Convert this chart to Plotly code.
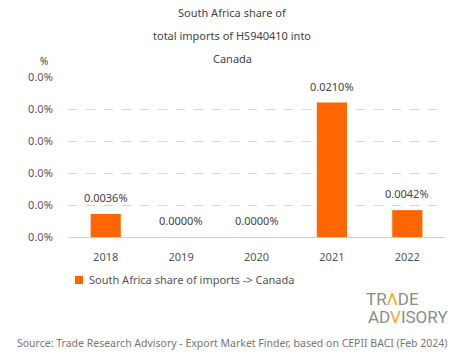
import plotly.graph_objects as go

years = ["2018", "2019", "2020", "2021", "2022"]
share_pct = [0.0036, 0.0, 0.0, 0.0210, 0.0042]
bar_labels = ["0.0036%", "0.0000%", "0.0000%", "0.0210%", "0.0042%"]
series_name = "South Africa share of imports -> Canada"
title_lines = ["South Africa share of", "total imports of HS940410 into", "Canada"]
source_text = "Source: Trade Research Advisory - Export Market Finder, based on CEPII BACI (Feb 2024)"

FONT = "Noto Sans"
ORANGE = "#ff6600"
GRAY = "#555555"

W, H = 465, 359
ml, mr, mt, mb = 68, 20, 77, 122
plot_w = W - ml - mr
plot_h = H - mt - mb

def px(xpix):
    return (xpix - ml) / plot_w

def py(ypix):
    return (H - mb - ypix) / plot_h

fig = go.Figure()
fig.add_trace(go.Bar(
    x=years, y=share_pct, name=series_name,
    marker=dict(color=ORANGE, line=dict(width=0)),
    width=0.4, showlegend=False,
))

# value labels above bars, anchored to the data (category serial index)
for i, (v, lab) in enumerate(zip(share_pct, bar_labels)):
    fig.add_annotation(x=i, y=v, xref="x", yref="y", text=lab, showarrow=False,
                       yanchor="bottom", yshift=7,
                       font=dict(family=FONT, size=11, color="#444444"))

fig.update_layout(
    width=W, height=H,
    margin=dict(l=ml, r=mr, t=mt, b=mb, autoexpand=False),
    paper_bgcolor="white", plot_bgcolor="white",
    font=dict(family=FONT, size=11, color=GRAY),
    showlegend=False,
)
fig.update_xaxes(
    type="category", categoryorder="array", categoryarray=years,
    range=[-0.5, len(years) - 0.5],
    showgrid=False, showline=True, linecolor="#d0d0d0", linewidth=1,
    ticks="outside", ticklen=10, tickcolor="rgba(0,0,0,0)",
    automargin=False, tickfont=dict(family=FONT, size=11, color=GRAY),
)
fig.update_yaxes(
    range=[0, 0.025], dtick=0.005, tickformat=".1f", ticksuffix="%",
    showgrid=True, gridcolor="#d6d6d6", griddash="dash", gridwidth=1,
    zeroline=False, showline=False, ticks="outside", ticklen=12, tickcolor="rgba(0,0,0,0)",
    automargin=False, tickfont=dict(family=FONT, size=11, color=GRAY),
)

# legend (custom, compact like the reference)
fig.add_shape(type="rect", xref="paper", yref="paper",
              x0=px(75), x1=px(83), y0=py(284), y1=py(276),
              fillcolor=ORANGE, line=dict(width=0))
fig.add_annotation(text=series_name, xref="paper", yref="paper",
                   x=px(87), y=py(279), xanchor="left", yanchor="middle",
                   showarrow=False, font=dict(family=FONT, size=11, color=GRAY))

for i, line in enumerate(title_lines):
    fig.add_annotation(text=line, xref="paper", yref="paper",
                       x=px(232), y=py(12 + 23 * i),
                       xanchor="center", yanchor="middle", showarrow=False,
                       font=dict(family=FONT, size=11, color="#444444"))

fig.add_annotation(text="%", xref="paper", yref="paper",
                   x=px(44), y=py(61), xanchor="center", yanchor="middle",
                   showarrow=False, font=dict(family=FONT, size=10, color="#444444"))

# Logo
fig.add_annotation(text="TR<span style='color:#f5a623'>Λ</span>DE", xref="paper", yref="paper",
                   x=px(364), y=py(299), xanchor="left", yanchor="middle",
                   showarrow=False, font=dict(family="Roboto", size=17, color="#8c8c8c"))
fig.add_annotation(text="AD<span style='color:#f5a623'>V</span>ISORY", xref="paper", yref="paper",
                   x=px(366), y=py(317), xanchor="left", yanchor="middle",
                   showarrow=False, font=dict(family="Roboto", size=17, color="#8c8c8c"))

fig.add_annotation(text=source_text, xref="paper", yref="paper",
                   x=px(232), y=py(343), xanchor="center", yanchor="middle",
                   showarrow=False, font=dict(family=FONT, size=10.5, color="#777777"))

fig.write_html("out.html", config={"displayModeBar": False},
               post_script="document.body.style.margin='0';")
